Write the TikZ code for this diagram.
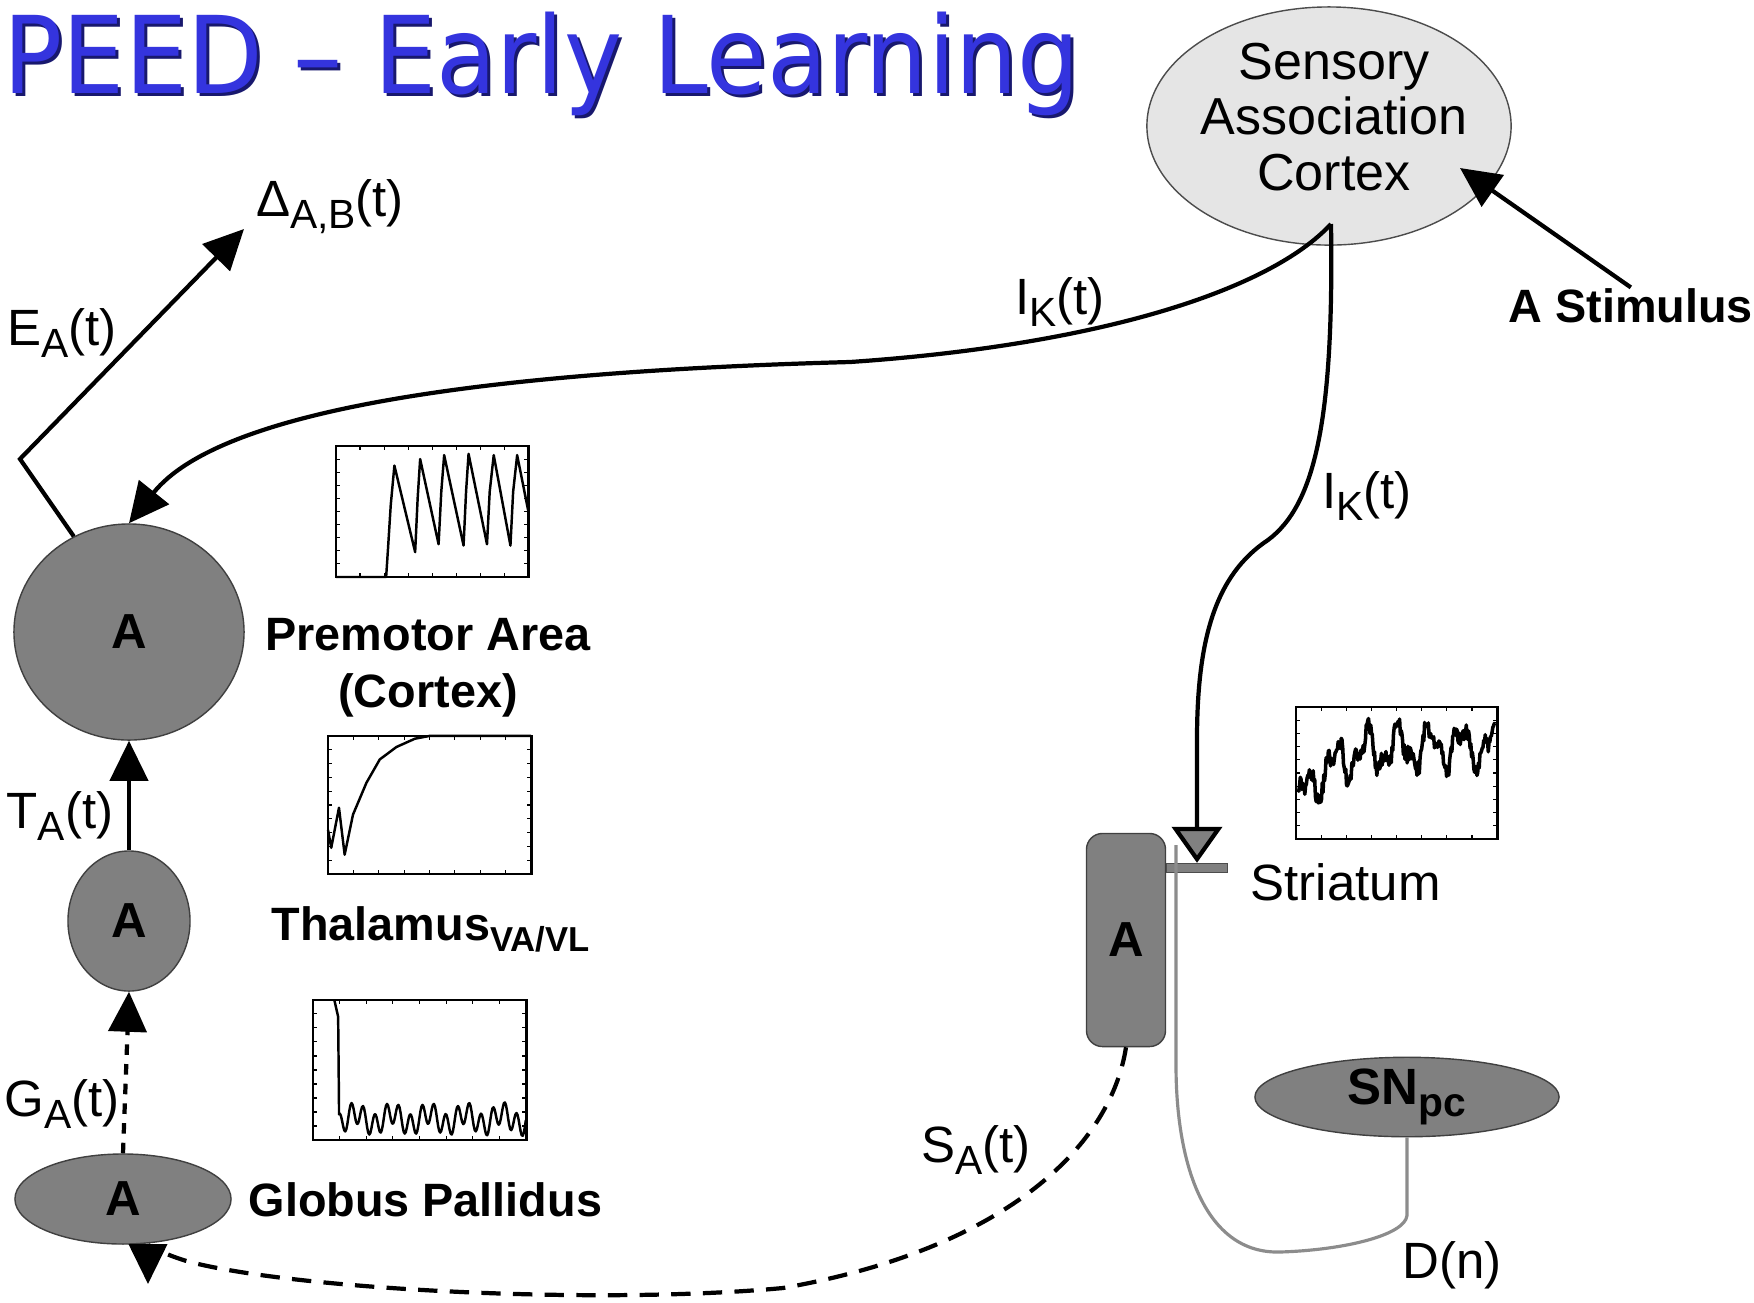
\documentclass[tikz,border=0pt]{standalone}
\usepackage{fontspec}
\setmainfont{Liberation Sans}
\newfontfamily\titrefont{DejaVu Sans}
\usetikzlibrary{arrows.meta,shapes.geometric}

\definecolor{titrebleu}{RGB}{52,52,222}
\definecolor{titreombre}{RGB}{24,24,110}
\newcommand\indice[1]{\raisebox{-0.45ex}{\scalebox{0.8}{#1}}}
\newcommand\titretexte{\scalebox{0.98}[1.07]{PEED – Early Learning}}
\newcommand\graduations{%
  \draw[cadre] (0,0) rectangle (1,1);
  \foreach \t in {0.125,0.25,...,0.875}
    \draw[line width=0.3pt] (\t,0) -- (\t,0.03) (\t,1) -- (\t,0.97);
  \foreach \t in {0.1,0.2,...,0.9}
    \draw[line width=0.3pt] (0,\t) -- (0.02,\t) (1,\t) -- (0.98,\t);
}

\begin{document}
\begin{tikzpicture}[
  x=0.01cm, y=-0.01cm,
  noyau/.style={ellipse, draw=black!75, line width=0.4pt, fill=gray, inner sep=0pt,
    font=\fontsize{14}{16}\selectfont\bfseries},
  etiq/.style={font=\fontsize{14.5}{17}\selectfont, inner sep=0pt},
  nom/.style={font=\fontsize{13.3}{16.2}\selectfont\bfseries, inner sep=0pt},
  fleche/.style={line width=1.2pt, -{Triangle[length=0.4cm,width=0.38cm]}},
  cadre/.style={line width=0.8pt},
  signal/.style={line width=0.7pt, line join=round},
  gris/.style={draw=black!45, line width=0.9pt},
]

% Fond
\fill[white] (0,0) rectangle (1754,1302);
\useasboundingbox (0,0) rectangle (1754,1302);

% Titre
\node[anchor=base west, inner sep=0pt, text=titreombre,
  font=\titrefont\fontsize{28.5}{30}\selectfont]
  (titreombre) at (6,96) {\titretexte};
\node[anchor=base west, inner sep=0pt, text=titrebleu,
  font=\titrefont\fontsize{28.5}{30}\selectfont]
  (titre) at (3,93) {\titretexte};

% Cortex associatif
\node[ellipse, draw=black!70, line width=0.4pt, fill=black!10,
  minimum width=3.64cm, minimum height=2.38cm, inner sep=0pt]
  (sac) at (1329,126) {};
\node[align=center, inner sep=0pt, font=\fontsize{14.8}{15.8}\selectfont]
  (sacnom) at (1334,117) {Sensory\\Association\\Cortex};

% Noyaux
\node[noyau, minimum width=2.30cm, minimum height=2.16cm] (pm) at (129,632) {A};
\node[noyau, minimum width=1.22cm, minimum height=1.40cm] (th) at (129,921) {A};
\node[noyau, minimum width=2.16cm, minimum height=0.90cm] (gp) at (123,1199) {A};
\node[noyau, rectangle, rounded corners=0.16cm,
  minimum width=0.79cm, minimum height=2.13cm] (str) at (1126,940) {A};
\node[noyau, minimum width=3.04cm, minimum height=0.72cm,
  font=\fontsize{14.5}{16}\selectfont\bfseries] (snpc) at (1407,1097) {SN\indice{pc}};
\node[draw=black!70, line width=0.4pt, fill=gray, inner sep=0pt,
  minimum width=0.61cm, minimum height=0.09cm] (barre) at (1197,868) {};

% Noms des aires
\node[nom, align=center] (pmnom) at (428,668) {Premotor Area\\(Cortex)};
\node[nom, anchor=base west] (thnom) at (271,940)
  {Thalamus\raisebox{-0.45ex}{\scalebox{0.74}{VA/VL}}};
\node[nom, anchor=base west] (gpnom) at (248,1216) {Globus Pallidus};
\node[etiq, anchor=base west] (strnom) at (1250,900) {Striatum};
\node[nom, anchor=base west] (stim) at (1508,322) {A Stimulus};

% Signaux
\node[etiq] (ea) at (62,333) {E\indice{A}(t)};
\node[etiq] (dab) at (330,207) {Δ\indice{A,B}(t)};
\node[etiq] (ik1) at (1060,302) {I\indice{K}(t)};
\node[etiq] (ik2) at (1367,496) {I\indice{K}(t)};
\node[etiq] (ta) at (60,816) {T\indice{A}(t)};
\node[etiq] (ga) at (62,1104) {G\indice{A}(t)};
\node[etiq] (sa) at (976,1150) {S\indice{A}(t)};
\node[etiq] (dn) at (1452,1265) {D(n)};

\coordinate (src) at (1331,224);
\coordinate (coude) at (20,459);
\coordinate (pointe) at (244,229);
\coordinate (stimpointe) at (1460,168);
\coordinate (dtop) at (1176,845);
\coordinate (gpfin) at (148,1284);

% Connexions
\draw[fleche]
  (src) .. controls (1270,290) and (1100,345) .. (850,362)
  .. controls (480,372) and (220,410) .. (pm.north);

\draw[fleche, -{Triangle[length=0.36cm,width=0.5cm,fill=gray]}]
  (src) .. controls (1334,420) and (1315,505) .. (1268,540)
  .. controls (1215,575) and (1197,640) .. (1197,740)
  -- (barre.north);

\draw[fleche]
  (pm.120) -- (coude) -- (pointe);

\draw[fleche]
  (stim.north) -- (stimpointe);

\draw[fleche]
  (th.north) -- (pm.south);

\draw[fleche, dash pattern=on 3pt off 2.6pt]
  (gp.north) -- (th.south);

\draw[fleche, dash pattern=on 5.5pt off 3.5pt]
  (str.south) .. controls (1110,1150) and (1000,1250) .. (783,1288)
  .. controls (600,1305) and (300,1290) .. (190,1262)
  .. controls (165,1255) and (148,1245) .. (gpfin);

\draw[gris]
  (snpc.south) -- ++(0,78)
  .. controls (1405,1235) and (1345,1250) .. (1280,1252)
  .. controls (1205,1254) and (1176,1165) .. (1176,1065)
  -- (dtop);

% Trace du cortex premoteur
\begin{scope}[shift={(336,577)}, x=1.92cm, y=1.31cm]
  \graduations
  \draw[signal]
    (0,0) -- (0.261,0) -- (0.27,0.2) -- (0.285,0.55) -- (0.304,0.85)
    -- (0.412,0.19) -- (0.425,0.6) -- (0.438,0.90)
    -- (0.534,0.25) -- (0.548,0.65) -- (0.563,0.93)
    -- (0.664,0.24) -- (0.677,0.65) -- (0.69,0.94)
    -- (0.786,0.25) -- (0.80,0.65) -- (0.821,0.93)
    -- (0.908,0.24) -- (0.922,0.65) -- (0.943,0.93)
    -- (1,0.51);
\end{scope}

% Trace du thalamus
\begin{scope}[shift={(328,874)}, x=2.03cm, y=1.38cm]
  \graduations
  \draw[signal]
    (0,0.32) -- (0.016,0.19) -- (0.054,0.48) -- (0.082,0.14)
    -- (0.123,0.43) -- (0.189,0.66) -- (0.255,0.83)
    -- (0.337,0.92) -- (0.428,0.98) -- (0.5,1) -- (1,1);
\end{scope}

% Trace du globus pallidus
\begin{scope}[shift={(313,1140)}, x=2.13cm, y=1.40cm]
  \graduations
  \draw[signal]
    (0.10,1) -- (0.118,0.88) -- (0.122,0.24)
    -- plot[domain=0.122:1, samples=180]
    (\x, {0.15+0.08*sin(\x*6500)+0.045*sin(\x*2100+30)});
\end{scope}

% Trace du striatum
\pgfmathsetseed{7}
\begin{scope}[shift={(1296,839)}, x=2.01cm, y=1.32cm]
  \graduations
  \draw[signal, line width=1pt]
    plot[domain=0.01:0.99, samples=260]
    (\x, {min(0.97, 0.70-0.5*exp(-7*\x)+0.13*sin(\x*2300)
      +0.08*sin(\x*5100+40)+0.06*rand)});
\end{scope}

\end{tikzpicture}
\end{document}
